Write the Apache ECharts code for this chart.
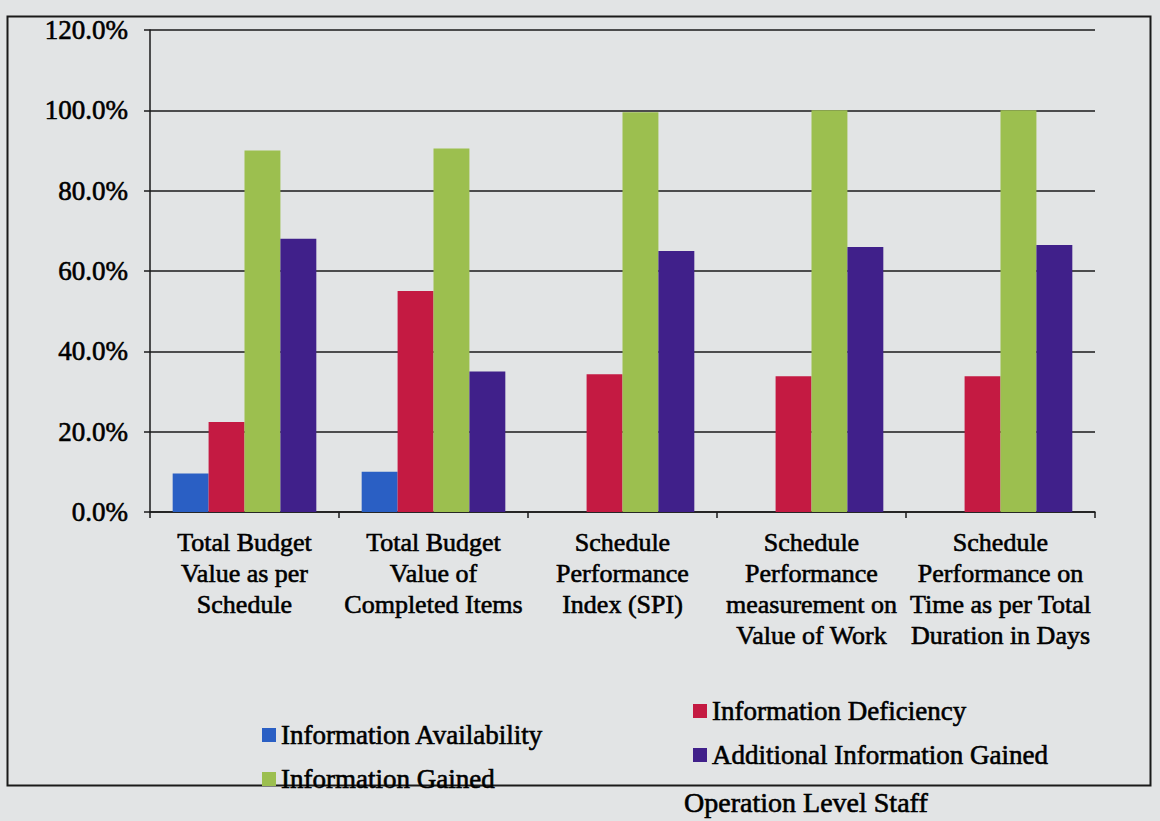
<!DOCTYPE html>
<html>
<head>
<meta charset="utf-8">
<script src="https://cdn.jsdelivr.net/npm/echarts/dist/echarts.min.js"></script>
<style>
html,body{margin:0;padding:0;background:#e2e4e5;}
#c{width:1160px;height:821px;}
</style>
</head>
<body>
<div id="c"></div>
<script>
// ---- data ----
const categories = [
  'Total Budget\nValue as per\nSchedule',
  'Total Budget\nValue of\nCompleted Items',
  'Schedule\nPerformance\nIndex (SPI)',
  'Schedule\nPerformance\nmeasurement on\nValue of Work',
  'Schedule\nPerformance on\nTime as per Total\nDuration in Days'
];
const seriesNames = ['Information Availability', 'Information Deficiency', 'Information Gained', 'Additional Information Gained'];
const availability = [9.6, 10.0, 0, 0, 0];
const deficiency   = [22.4, 55.0, 34.3, 33.8, 33.8];
const gained       = [90.0, 90.5, 99.5, 100.0, 100.0];
const additional   = [68.0, 35.0, 65.0, 66.0, 66.5];
const yMin = 0, yMax = 120, yStep = 20;
const captionText = 'Operation Level Staff';

// ---- styles ----
const FONT = '"Liberation Serif", "Times New Roman", serif';
const colors = ['#2a5fc4', '#c41a42', '#9cbf4f', '#40208a'];
const values = [availability, deficiency, gained, additional];
const heavy = {textBorderColor: '#000', textBorderWidth: 0.6};

const chart = echarts.init(document.getElementById('c'), null, {renderer: 'svg'});
chart.setOption({
  backgroundColor: '#e2e4e5',
  animation: false,
  grid: {left: 150, right: 65, top: 30, bottom: 309, containLabel: false},
  xAxis: {
    type: 'category',
    data: categories,
    axisLine: {show: true, lineStyle: {color: '#1a1a1a', width: 1.5}},
    axisTick: {show: true, length: 6, lineStyle: {color: '#1a1a1a', width: 1.5}},
    axisLabel: Object.assign({interval: 0, color: '#000', fontFamily: FONT, fontSize: 26, lineHeight: 31, margin: 15}, heavy)
  },
  yAxis: {
    type: 'value',
    min: yMin, max: yMax, interval: yStep,
    axisLine: {show: true, lineStyle: {color: '#1a1a1a', width: 1.5}},
    axisTick: {show: true, length: 6, lineStyle: {color: '#1a1a1a', width: 1.5}},
    splitLine: {show: true, lineStyle: {color: '#1a1a1a', width: 1.5}},
    axisLabel: Object.assign({color: '#000', fontFamily: FONT, fontSize: 27, margin: 22,
      formatter: v => v.toFixed(1) + '%'}, heavy)
  },
  legend: [
    {
      data: [seriesNames[0], seriesNames[2]],
      orient: 'vertical', left: 257, top: 716,
      icon: 'rect', itemWidth: 14, itemHeight: 14, itemGap: 16,
      textStyle: Object.assign({color: '#000', fontFamily: FONT, fontSize: 27, lineHeight: 28}, heavy)
    },
    {
      data: [seriesNames[1], seriesNames[3]],
      orient: 'vertical', left: 688, top: 692,
      icon: 'rect', itemWidth: 14, itemHeight: 14, itemGap: 16,
      textStyle: Object.assign({color: '#000', fontFamily: FONT, fontSize: 27, lineHeight: 28}, heavy)
    }
  ],
  series: seriesNames.map((name, i) => ({
    name: name,
    type: 'bar',
    data: values[i],
    barGap: '0%',
    barCategoryGap: '24%',
    itemStyle: {color: colors[i]}
  })),
  graphic: [
    {type: 'rect', left: 5, top: 14, shape: {width: 1143, height: 769},
     style: {fill: 'none', stroke: '#1a1a1a', lineWidth: 2}, silent: true},
    {type: 'text', right: 232, top: 788,
     style: {text: captionText, fill: '#000', stroke: '#000', lineWidth: 0.6,
             font: '28px "Liberation Serif", serif'}, silent: true}
  ]
});
</script>
</body>
</html>
